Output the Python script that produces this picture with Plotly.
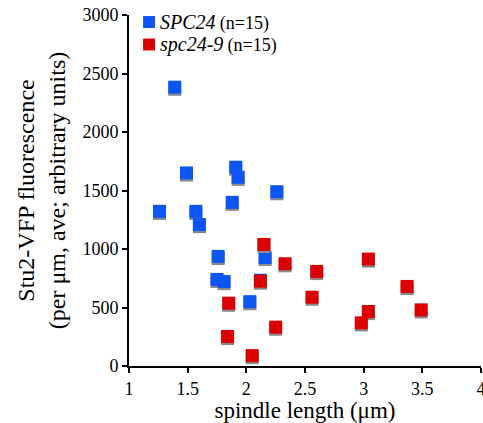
import plotly.graph_objects as go

# SPC24 (wild type)
wt_x = [1.26, 1.39, 1.49, 1.57, 1.60, 1.76, 1.75, 1.81, 1.88, 1.91, 1.93, 2.03, 2.12, 2.16, 2.26]
wt_y = [1322, 2383, 1650, 1322, 1209, 937, 740, 722, 1399, 1699, 1613, 550, 733, 928, 1490]

# spc24-9 mutant
mut_x = [2.15, 2.33, 2.12, 1.85, 2.25, 1.84, 2.05, 2.60, 3.04, 2.56, 3.37, 3.04, 2.98, 3.49]
mut_y = [1039, 874, 725, 537, 332, 252, 89, 808, 914, 588, 680, 466, 369, 480]

series_names = ["SPC24", "spc24-9"]
series_n = [15, 15]

x_ticks = [1, 1.5, 2, 2.5, 3, 3.5, 4]
x_tick_labels = ["1", "1.5", "2", "2.5", "3", "3.5", "4"]
y_ticks = [0, 500, 1000, 1500, 2000, 2500, 3000]

BLUE = "#0d55f5"
RED = "#dd0000"
SHADOW = "#8a8a8a"
shadow_dy = 18
colors = [BLUE, RED]

fig = go.Figure()
for xs, ys, col in [(wt_x, wt_y, BLUE), (mut_x, mut_y, RED)]:
    fig.add_trace(go.Scatter(
        x=xs, y=[v - shadow_dy for v in ys], mode="markers",
        marker=dict(symbol="square", size=13, color=SHADOW, line=dict(width=0)),
        showlegend=False, hoverinfo="skip"))
    fig.add_trace(go.Scatter(
        x=xs, y=ys, mode="markers", showlegend=False,
        marker=dict(symbol="square", size=13, color=col, line=dict(width=0))))

font_family = "Times New Roman"

# custom legend (paper coordinates): colour squares + one two-line label
legend_rows_y = [0.980, 0.916]
for col, yc in zip(colors, legend_rows_y):
    fig.add_shape(type="rect", xref="paper", yref="paper",
                  x0=0.040, x1=0.074, y0=yc - 0.017, y1=yc + 0.017,
                  fillcolor=col, line=dict(width=0))
legend_text = "<br>".join(
    f"<span style='font-size:20px'><i>{name}</i></span> "
    f"<span style='font-size:18px'>(n={n})</span>"
    for name, n in zip(series_names, series_n))
fig.add_annotation(xref="paper", yref="paper", x=0.083,
                   y=sum(legend_rows_y) / 2,
                   xanchor="left", yanchor="middle", align="left", showarrow=False,
                   text=legend_text,
                   font=dict(size=17, family=font_family, color="black"))

fig.update_layout(
    width=483, height=423,
    margin=dict(l=129, r=2, t=15, b=57, autoexpand=False),
    paper_bgcolor="white", plot_bgcolor="white",
    font=dict(family=font_family, color="black", size=18),
    showlegend=False,
    xaxis=dict(range=[1, 4], tickvals=x_ticks, ticktext=x_tick_labels,
               showgrid=False, zeroline=False, showline=True,
               linecolor="black", linewidth=2, ticks="outside",
               ticklen=5, tickwidth=2, tickcolor="black",
               tickfont=dict(size=18, family=font_family),
               ticklabeloverflow="allow", automargin=False,
               title=dict(text="spindle length (μm)", font=dict(size=23, family=font_family), standoff=5)),
    yaxis=dict(range=[0, 3000], tickvals=y_ticks,
               showgrid=False, zeroline=False, showline=True,
               linecolor="black", linewidth=2, ticks="outside",
               ticklen=5, tickwidth=2, tickcolor="black",
               tickfont=dict(size=18, family=font_family), automargin=False,
               title=dict(text="Stu2-VFP fluorescence<br>(per μm, ave; arbitrary units)",
                          font=dict(size=24, family=font_family), standoff=10)),
)

fig.write_html("out.html")
